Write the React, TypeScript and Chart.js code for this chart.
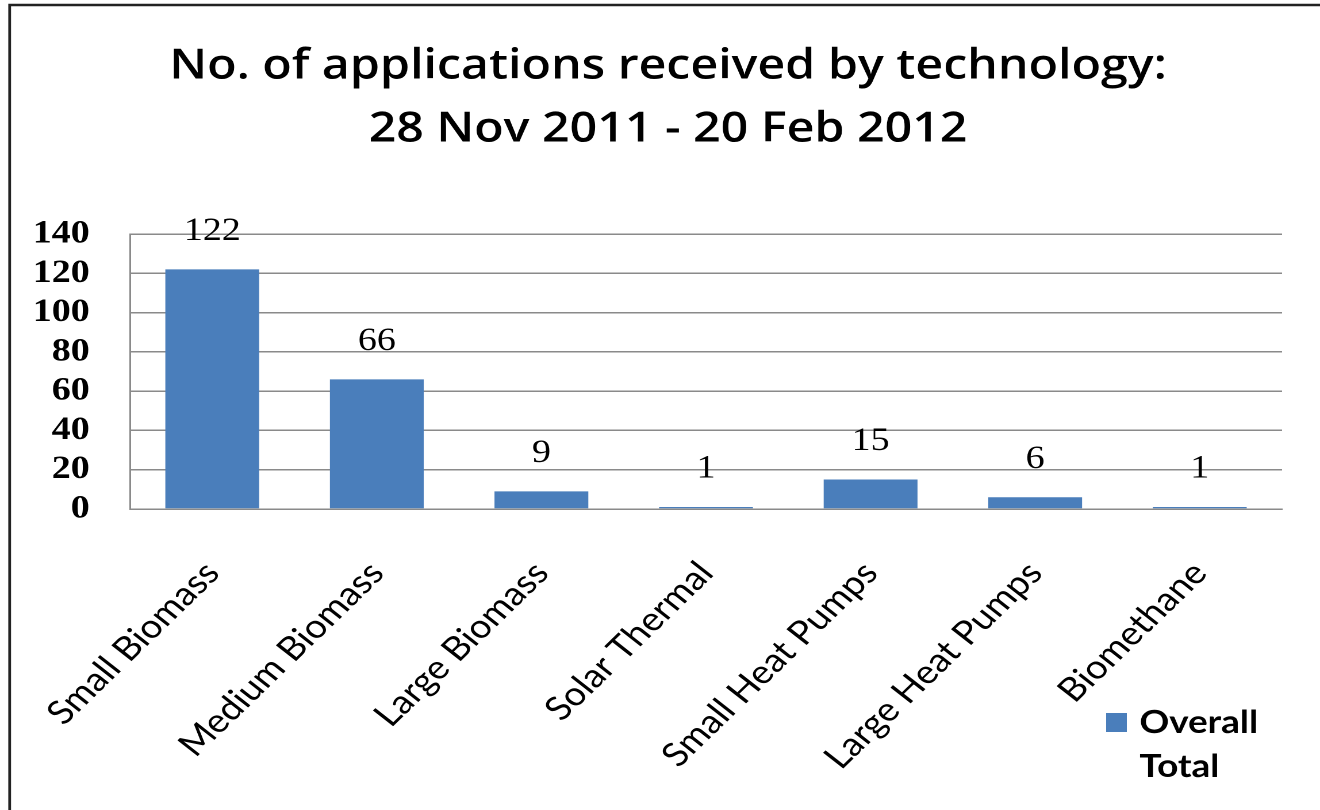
import { useEffect, useRef } from 'react';
import { Chart, registerables } from 'chart.js';

Chart.register(...registerables);

const TITLE_LINES = ['No. of applications received by technology:', '28 Nov 2011 - 20 Feb 2012'];
const CATEGORIES = [
  'Small Biomass',
  'Medium Biomass',
  'Large Biomass',
  'Solar Thermal',
  'Small Heat Pumps',
  'Large Heat Pumps',
  'Biomethane',
];
const SERIES_LABEL = 'Overall Total';
const VALUES = [122, 66, 9, 1, 15, 6, 1];
const Y_MIN = 0;
const Y_MAX = 140;
const Y_STEP = 20;

const W = 1148;
const H = 810;
const OUT_W = 1320;
const BAR_COLOR = '#4a7ebb';
const GRID_COLOR = '#8a8a8a';

const framePlugin = {
  id: 'frame',
  beforeDraw(chart: any) {
    const ctx = chart.ctx;
    ctx.save();
    ctx.fillStyle = '#ffffff';
    ctx.fillRect(0, 0, chart.width, chart.height);
    ctx.restore();
  },
  afterDraw(chart: any) {
    const ctx = chart.ctx;
    ctx.save();
    ctx.strokeStyle = '#222222';
    ctx.lineWidth = 2.4;
    ctx.beginPath();
    ctx.moveTo(8.4, chart.height);
    ctx.lineTo(8.4, 5);
    ctx.lineTo(chart.width, 5);
    ctx.stroke();
    ctx.restore();
  },
};

const valueLabelPlugin = {
  id: 'valueLabels',
  afterDatasetsDraw(chart: any) {
    const ctx = chart.ctx;
    const meta = chart.getDatasetMeta(0);
    const data = chart.data.datasets[0].data;
    ctx.save();
    ctx.fillStyle = '#000000';
    ctx.font = '33px "Liberation Serif"';
    ctx.textAlign = 'center';
    ctx.textBaseline = 'middle';
    meta.data.forEach((el: any, i: number) => {
      ctx.fillText(String(data[i]), el.x, el.y - 38);
    });
    ctx.restore();
  },
};

const sideLegendPlugin = {
  id: 'sideLegend',
  afterDraw(chart: any) {
    const ctx = chart.ctx;
    const ds = chart.data.datasets[0];
    const words = String(ds.label).split(' ');
    ctx.save();
    ctx.fillStyle = ds.backgroundColor;
    ctx.fillRect(962, 713, 18, 19);
    ctx.fillStyle = '#000000';
    ctx.font = 'bold 32px Lato';
    ctx.textAlign = 'left';
    ctx.textBaseline = 'alphabetic';
    words.forEach((w: string, i: number) => {
      ctx.fillText(w, 991, 733 + i * 44);
    });
    ctx.restore();
  },
};

export default function App() {
  const ref = useRef<HTMLCanvasElement | null>(null);

  useEffect(() => {
    const canvas = ref.current;
    if (!canvas) return;
    const chart = new Chart(canvas, {
      type: 'bar',
      data: {
        labels: CATEGORIES,
        datasets: [
          {
            label: SERIES_LABEL,
            data: VALUES,
            backgroundColor: BAR_COLOR,
            borderWidth: 0,
            barPercentage: 0.57,
            categoryPercentage: 1,
            yAxisID: 'y',
          },
        ],
      },
      options: {
        responsive: false,
        devicePixelRatio: 2,
        animation: false,
        layout: { padding: { left: 14, right: 0, top: 0, bottom: 0 } },
        plugins: {
          legend: { display: false },
          tooltip: { enabled: false },
          title: {
            display: true,
            text: TITLE_LINES,
            color: '#000000',
            font: { family: 'Open Sans', size: 42, weight: '600', lineHeight: 1.5 },
            padding: { top: 35, bottom: 73 },
          },
        },
        scales: {
          x: {
            grid: { display: false },
            border: { display: true, color: GRID_COLOR, width: 1.5 },
            ticks: {
              autoSkip: false,
              minRotation: 48,
              maxRotation: 48,
              padding: 37,
              color: '#000000',
              font: { family: 'Lato', size: 33 },
            },
            afterFit(scale: any) {
              scale.height = 810 - 509;
            },
          },
          y: {
            position: 'left',
            min: Y_MIN,
            max: Y_MAX,
            ticks: {
              stepSize: Y_STEP,
              autoSkip: false,
              padding: 35,
              color: '#000000',
              font: { family: 'Liberation Serif', size: 33, weight: 'bold' },
            },
            grid: { color: GRID_COLOR, lineWidth: 1.5, drawTicks: false },
            border: { display: true, color: GRID_COLOR, width: 1.5 },
            afterFit(scale: any) {
              scale.width = 99;
            },
          },
          spacer: {
            type: 'linear',
            position: 'right',
            display: true,
            ticks: { display: false },
            grid: { display: false, drawTicks: false },
            border: { display: false },
            afterFit(scale: any) {
              scale.width = 33;
            },
          },
        },
      },
      plugins: [framePlugin, valueLabelPlugin, sideLegendPlugin],
    });
    return () => chart.destroy();
  }, []);

  return (
    <div style={{ position: 'absolute', left: 0, top: 0, width: OUT_W, height: H, background: '#fff' }}>
      <canvas ref={ref} width={W} height={H} style={{ width: OUT_W + 'px', height: H + 'px', display: 'block' }} />
    </div>
  );
}
